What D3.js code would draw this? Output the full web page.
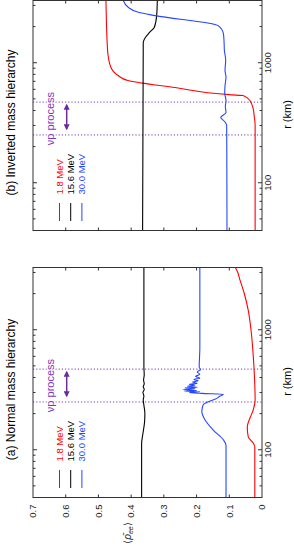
<!DOCTYPE html>
<html>
<head>
<meta charset="utf-8">
<script src="https://cdn.jsdelivr.net/npm/d3@7/dist/d3.min.js"></script>
<style>
  body { margin: 0; background: #fff; }
  text { font-family: "Liberation Sans", Arial, sans-serif; }
</style>
</head>
<body>
<script>
// values: [r (km), <rho_ee>]
var energies = ['1.8 MeV', '15.6 MeV', '30.0 MeV'],
    colors = ['#ff0000', '#000000', '#2448ff'],
    rhoTicks = [0, 0.1, 0.2, 0.3, 0.4, 0.5, 0.6, 0.7],
    rMajor = [100, 1000],
    rMinor = [50, 60, 70, 80, 90, 200, 300, 400, 500, 600, 700, 800, 900, 2000, 3000],
    vpRange = [250, 470],
    vpArrow = [280, 445];

var nhRed = [[40, 0.022], [105, 0.022], [114, 0.027], [128, 0.042], [155, 0.045],
    [183, 0.037], [214, 0.027], [260, 0.021], [404, 0.023], [674, 0.028],
    [1019, 0.034], [1451, 0.042], [1995, 0.054], [2580, 0.067], [3130, 0.077], [3300, 0.082]];
var nhBlack = [[40, 0.368], [112, 0.368], [136, 0.364], [170, 0.359], [200, 0.358],
    [235, 0.361], [260, 0.363], [280, 0.361], [300, 0.364], [318, 0.36], [335, 0.363],
    [355, 0.36], [381, 0.362], [420, 0.36], [490, 0.361], [3300, 0.361]];
var nhBlue = [[40, 0.110], [109, 0.110], [121, 0.118], [146, 0.149], [177, 0.174],
    [208, 0.184], [236, 0.180], [251, 0.164], [263, 0.144], [280, 0.128], [290, 0.118],
    [295, 0.184], [300, 0.222], [304, 0.19], [308, 0.238], [312, 0.2], [317, 0.242],
    [322, 0.205], [327, 0.236], [332, 0.198], [338, 0.228], [344, 0.205], [350, 0.222],
    [358, 0.198], [366, 0.213], [375, 0.195], [385, 0.208], [395, 0.19], [408, 0.203],
    [425, 0.19], [445, 0.198], [465, 0.188], [490, 0.192], [700, 0.19], [1500, 0.19], [3300, 0.19]];

var ihRed = [[40, 0.021], [300, 0.021], [363, 0.024], [415, 0.027], [484, 0.037],
    [533, 0.058], [540, 0.093], [621, 0.266], [711, 0.41], [782, 0.44], [917, 0.462],
    [1264, 0.472], [3300, 0.477]];
var ihBlack = [[40, 0.365], [1482, 0.363], [1630, 0.356], [1795, 0.343], [1977, 0.329],
    [2470, 0.322], [3300, 0.32]];
var ihBlue = [[40, 0.107], [300, 0.108], [321, 0.113], [351, 0.126], [384, 0.11],
    [430, 0.112], [484, 0.11], [560, 0.114], [645, 0.113], [760, 0.11], [861, 0.113],
    [1050, 0.111], [1264, 0.115], [1500, 0.116], [1750, 0.118], [2040, 0.134],
    [2470, 0.327], [2630, 0.378], [2900, 0.409], [3300, 0.424]];

var width = 294,
    height = 549,
    purple = '#7e35b8',
    svg = d3.select('body').append('svg')
        .attr('width', width)
        .attr('height', height),
    x = d3.scaleLinear().domain([0, 0.7]).range([262, 33]);

svg.append('defs').append('marker')
    .attr('id', 'head')
    .attr('viewBox', '0 0 10 10')
    .attr('refX', 8).attr('refY', 5)
    .attr('markerWidth', 4).attr('markerHeight', 4)
    .attr('orient', 'auto-start-reverse')
    .append('path')
    .attr('d', 'M0,0L10,5L0,10z')
    .attr('fill', '#6a2aa0');

function drawPanel(top, title, series, rhoLabels) {
    var bottom = top + 230,
        y = d3.scaleLog().domain([40, 3300]).range([bottom, top]),
        g = svg.append('g'),
        line = d3.line()
            .x(function (d) { return x(d[1]); })
            .y(function (d) { return y(d[0]); })
            .curve(d3.curveMonotoneY);

    // vp process window
    vpRange.forEach(function (r) {
        g.append('line')
            .attr('x1', 33).attr('x2', 262)
            .attr('y1', y(r)).attr('y2', y(r))
            .attr('stroke', purple)
            .attr('stroke-width', 1)
            .attr('stroke-dasharray', '1.2,2');
    });

    series.forEach(function (s, i) {
        g.append('path')
            .datum(s)
            .attr('d', line)
            .attr('fill', 'none')
            .attr('stroke', colors[i])
            .attr('stroke-width', 1.1);
    });

    g.append('rect')
        .attr('x', 33).attr('y', top)
        .attr('width', 229).attr('height', 230)
        .attr('fill', 'none')
        .attr('stroke', '#333');

    rhoTicks.slice(1, -1).forEach(function (v) {
        g.append('line').attr('x1', x(v)).attr('x2', x(v))
            .attr('y1', top).attr('y2', top + 3).attr('stroke', '#333');
        g.append('line').attr('x1', x(v)).attr('x2', x(v))
            .attr('y1', bottom).attr('y2', bottom - 3).attr('stroke', '#333');
    });
    rMajor.concat(rMinor).forEach(function (r) {
        var len = rMajor.indexOf(r) >= 0 ? 4 : 2.5;
        g.append('line').attr('x1', 33).attr('x2', 33 + len)
            .attr('y1', y(r)).attr('y2', y(r)).attr('stroke', '#333');
        g.append('line').attr('x1', 262).attr('x2', 262 - len)
            .attr('y1', y(r)).attr('y2', y(r)).attr('stroke', '#333');
    });
    rMajor.forEach(function (r) {
        g.append('text')
            .attr('transform', 'translate(268,' + y(r) + ') rotate(-90)')
            .attr('text-anchor', 'middle')
            .attr('dy', '0.35em')
            .style('font-size', '9.5px')
            .attr('fill', '#222')
            .text(r);
    });

    if (rhoLabels) {
        rhoTicks.forEach(function (v) {
            g.append('text')
                .attr('transform', 'translate(' + x(v) + ',' + (bottom + 7) + ') rotate(-90)')
                .attr('text-anchor', 'end')
                .attr('dy', '0.35em')
                .style('font-size', '9.5px')
                .attr('fill', '#222')
                .text(v === 0 ? '0' : v.toFixed(1));
        });
    }

    g.append('text')
        .attr('transform', 'translate(11,' + (top + 122) + ') rotate(-90)')
        .attr('text-anchor', 'middle')
        .attr('dy', '0.35em')
        .style('font-size', '12px')
        .text(title);

    g.append('text')
        .attr('transform', 'translate(287,' + (top + 114) + ') rotate(-90)')
        .attr('text-anchor', 'middle')
        .attr('dy', '0.35em')
        .style('font-size', '11px')
        .text('r (km)');

    // legend
    energies.forEach(function (e, i) {
        var lx = 59.5 + i * 11.2;
        g.append('line')
            .attr('x1', lx).attr('x2', lx)
            .attr('y1', bottom - 27.5).attr('y2', bottom - 9.5)
            .attr('stroke', colors[i]);
        g.append('text')
            .attr('transform', 'translate(' + lx + ',' + (bottom - 36) + ') rotate(-90)')
            .attr('dy', '0.35em')
            .style('font-size', '9.5px')
            .attr('fill', colors[i])
            .text(e);
    });

    g.append('text')
        .attr('transform', 'translate(' + x(0.648) + ',' + y(Math.sqrt(vpRange[0] * vpRange[1])) + ') rotate(-90)')
        .attr('text-anchor', 'middle')
        .attr('dy', '0.35em')
        .style('font-size', '11px')
        .attr('fill', purple)
        .attr('stroke', '#fff')
        .attr('stroke-width', 3)
        .style('paint-order', 'stroke')
        .text('\u03bdp process');

    g.append('line')
        .attr('x1', x(0.597)).attr('x2', x(0.597))
        .attr('y1', y(vpArrow[0])).attr('y2', y(vpArrow[1]))
        .attr('stroke', '#6a2aa0')
        .attr('stroke-width', 1.5)
        .attr('marker-start', 'url(#head)')
        .attr('marker-end', 'url(#head)');
}

drawPanel(0.5, '(b) Inverted mass hierarchy', [ihRed, ihBlack, ihBlue], false);
drawPanel(267.5, '(a) Normal mass hierarchy', [nhRed, nhBlack, nhBlue], true);

var lab = svg.append('text')
    .attr('transform', 'translate(127,533) rotate(-90)')
    .attr('text-anchor', 'middle')
    .attr('dy', '0.35em')
    .style('font-size', '10px')
    .attr('fill', '#222');
lab.append('tspan').text('\u27e8');
lab.append('tspan').style('font-style', 'italic').text('\u03c1\u0304');
lab.append('tspan').style('font-style', 'italic').style('font-size', '7px')
    .attr('dy', '2').text('ee');
lab.append('tspan').attr('dy', '-2').text('\u27e9');
</script>
</body>
</html>
